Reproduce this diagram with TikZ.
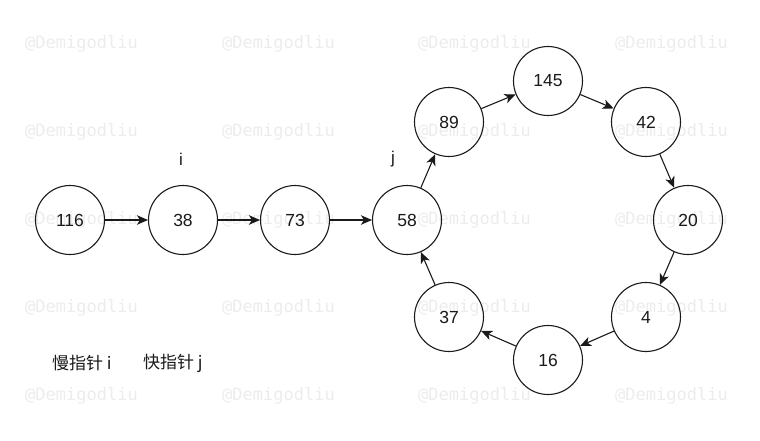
\documentclass[tikz,border=0pt]{standalone}
\usepackage{fontspec}
\setmainfont{Liberation Sans}
\newfontfamily\cjkfont{Noto Sans CJK SC}
\newfontfamily\markfont{DejaVu Sans Mono}
\usetikzlibrary{arrows.meta}
\definecolor{ink}{HTML}{1A1A1A}
\tikzset{
  listnode/.style={circle, draw=ink, line width=1.1pt, fill=white, minimum size=69pt, inner sep=0pt,
    font=\fontsize{17.5}{20}\selectfont, text=ink},
  link/.style={draw=ink, line width=1.1pt, -{Stealth[length=11pt, width=9.5pt, inset=3pt]}},
  ptr/.style={font=\fontsize{17}{20}\selectfont, text=ink},
  legend/.style={font=\cjkfont\fontsize{17}{20}\selectfont, text=ink, anchor=west, inner sep=0pt},
  wmtext/.style={font=\markfont\fontsize{17}{20}\selectfont, text=black, opacity=0.075, anchor=west, inner sep=0pt}
}
\begin{document}
\begin{tikzpicture}[x=1pt, y=-1pt]
\useasboundingbox (0,0) rectangle (760,440);
\fill[white] (0,0) rectangle (760,440);

% tail of the list
\node[listnode] (n116) at (70,220) {116};
\node[listnode] (n38)  at (183,220) {38};
\node[listnode] (n73)  at (295,220) {73};
\node[listnode] (n58)  at (407,220) {58};
% the cycle
\node[listnode] (n89)  at (449,122) {89};
\node[listnode] (n145) at (548,81) {145};
\node[listnode] (n42)  at (646,122) {42};
\node[listnode] (n20)  at (688,220) {20};
\node[listnode] (n4)   at (646,317) {4};
\node[listnode] (n16)  at (548,360) {16};
\node[listnode] (n37)  at (449,317) {37};

\draw[link] (n116) -- (n38);
\draw[link] (n38) -- (n73);
\draw[link] (n73) -- (n58);
\draw[link] (n58) -- (n89);
\draw[link] (n89) -- (n145);
\draw[link] (n145) -- (n42);
\draw[link] (n42) -- (n20);
\draw[link] (n20) -- (n4);
\draw[link] (n4) -- (n16);
\draw[link] (n16) -- (n37);
\draw[link] (n37) -- (n58);

% pointer labels
\node[ptr] (pi) at (181,159) {i};
\node[ptr] (pj) at (393,159) {j};

% legend
\node[legend] (slow) at (52,363) {慢指针 i};
\node[legend] (fast) at (143,363) {快指针 j};

% watermark grid
\foreach \r in {44,132,220,308,396}{
  \foreach \c in {25,222,418,615}{
    \node[wmtext] at (\c,\r) {@Demigodliu};
  }
}
\end{tikzpicture}
\end{document}
